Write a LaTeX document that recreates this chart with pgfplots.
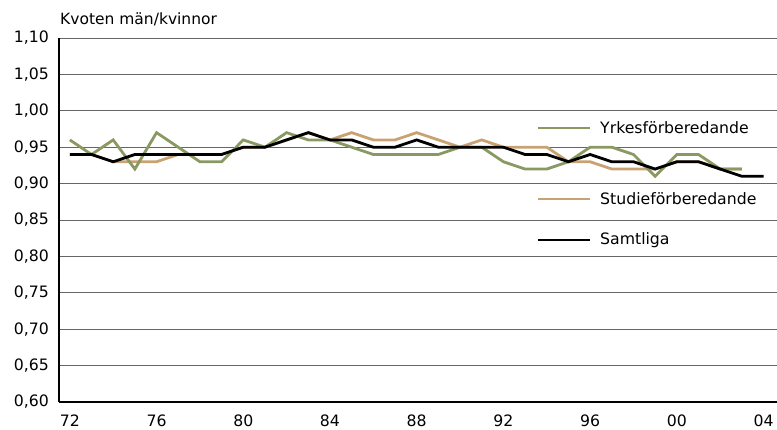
\documentclass[border=0pt]{standalone}
\usepackage{fontspec}
\setmainfont{DejaVu Sans}
\usepackage{pgfplots}
\pgfplotsset{compat=1.18}
\definecolor{yrkes}{RGB}{138,153,98}
\definecolor{studie}{RGB}{201,162,115}
\begin{document}
\begin{tikzpicture}
\begin{axis}[
  scale only axis,
  width=718pt, height=364pt,
  at={(0,0)}, anchor=south west,
  xmin=1971.5, xmax=2004.62,
  ymin=0.60, ymax=1.10,
  axis lines=left,
  axis line style={-, line width=1.2pt, black},
  ytick={0.60,0.65,...,1.101},
  xtick={1972,1976,1980,1984,1988,1992,1996,2000,2004},
  xticklabels={72,76,80,84,88,92,96,00,04},
  major tick length=0pt,
  tick style={draw=none},
  ymajorgrids,
  grid style={black!60, line width=0.9pt},
  /pgf/number format/assume math mode=true,
  yticklabel style={/pgf/number format/fixed, /pgf/number format/fixed zerofill, /pgf/number format/precision=2, /pgf/number format/use comma},
  yticklabel style={font=\fontsize{15.7}{18}\selectfont, inner sep=0pt, anchor=east, xshift=-10pt},
  xticklabel style={font=\fontsize{15.7}{18}\selectfont, inner sep=0pt, anchor=north, yshift=-12.5pt},
  clip=false,
]
\addplot[studie, line width=2.8pt] coordinates {
(1972,0.94)(1973,0.94)(1974,0.93)(1975,0.93)(1976,0.93)(1977,0.94)(1978,0.94)(1979,0.94)
(1980,0.95)(1981,0.95)(1982,0.96)(1983,0.97)(1984,0.96)(1985,0.97)(1986,0.96)(1987,0.96)
(1988,0.97)(1989,0.96)(1990,0.95)(1991,0.96)(1992,0.95)(1993,0.95)(1994,0.95)(1995,0.93)
(1996,0.93)(1997,0.92)(1998,0.92)(1999,0.92)(2000,0.93)(2001,0.93)(2002,0.92)(2003,0.92)};
\addplot[yrkes, line width=2.8pt] coordinates {
(1972,0.96)(1973,0.94)(1974,0.96)(1975,0.92)(1976,0.97)(1977,0.95)(1978,0.93)(1979,0.93)
(1980,0.96)(1981,0.95)(1982,0.97)(1983,0.96)(1984,0.96)(1985,0.95)(1986,0.94)(1987,0.94)
(1988,0.94)(1989,0.94)(1990,0.95)(1991,0.95)(1992,0.93)(1993,0.92)(1994,0.92)(1995,0.93)
(1996,0.95)(1997,0.95)(1998,0.94)(1999,0.91)(2000,0.94)(2001,0.94)(2002,0.92)(2003,0.92)};
\addplot[black, line width=2.8pt] coordinates {
(1972,0.94)(1973,0.94)(1974,0.93)(1975,0.94)(1976,0.94)(1977,0.94)(1978,0.94)(1979,0.94)
(1980,0.95)(1981,0.95)(1982,0.96)(1983,0.97)(1984,0.96)(1985,0.96)(1986,0.95)(1987,0.95)
(1988,0.96)(1989,0.95)(1990,0.95)(1991,0.95)(1992,0.95)(1993,0.94)(1994,0.94)(1995,0.93)
(1996,0.94)(1997,0.93)(1998,0.93)(1999,0.92)(2000,0.93)(2001,0.93)(2002,0.92)(2003,0.91)(2004,0.91)};
% legend
\draw[yrkes, line width=2.8pt] (rel axis cs:0.667,0.7527) -- (rel axis cs:0.7396,0.7527);
\node[anchor=west, inner sep=0pt, font=\fontsize{15.7}{18}\selectfont] at (rel axis cs:0.7535,0.7527) {Yrkesförberedande};
\draw[studie, line width=2.8pt] (rel axis cs:0.667,0.5577) -- (rel axis cs:0.7396,0.5577);
\node[anchor=west, inner sep=0pt, font=\fontsize{15.7}{18}\selectfont] at (rel axis cs:0.7535,0.5577) {Studieförberedande};
\draw[black, line width=2.8pt] (rel axis cs:0.667,0.445) -- (rel axis cs:0.7396,0.445);
\node[anchor=west, inner sep=0pt, font=\fontsize{15.7}{18}\selectfont] at (rel axis cs:0.7535,0.445) {Samtliga};
\node[anchor=base west, inner sep=0pt, font=\fontsize{15.5}{18}\selectfont] at ([xshift=1pt,yshift=13.5pt]rel axis cs:0,1) {Kvoten män/kvinnor};
\end{axis}
\pgfresetboundingbox
\path (-59pt,-27pt) rectangle (718pt,402pt);
\end{tikzpicture}
\end{document}
